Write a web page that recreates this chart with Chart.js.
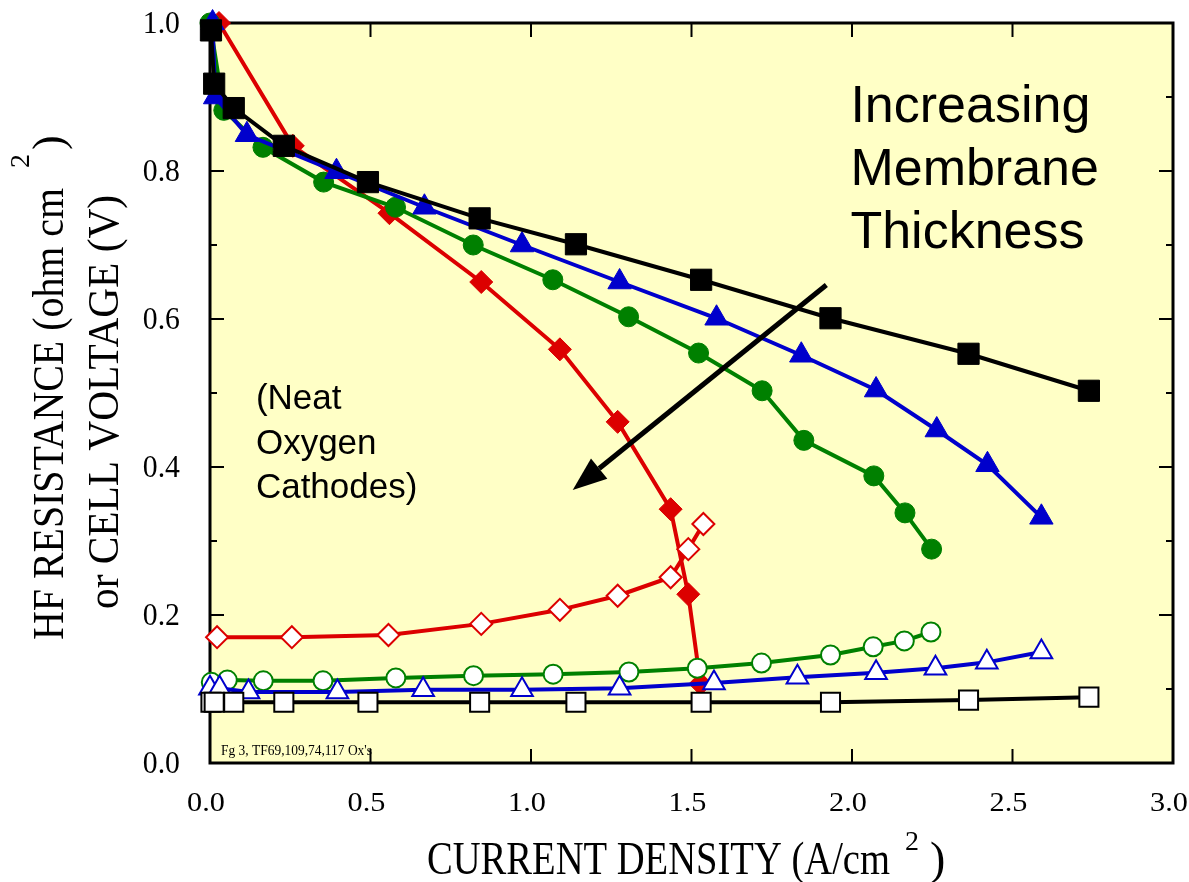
<!DOCTYPE html>
<html>
<head>
<meta charset="utf-8">
<script src="https://cdn.jsdelivr.net/npm/chart.js@4.4.1/dist/chart.umd.min.js"></script>
<style>
  body { margin: 0; background: #fff; }
  canvas { display: block; }
</style>
</head>
<body>
<canvas id="polarizationChart" width="1189" height="882"></canvas>
<script>
// Thickest membrane (black squares)
const blackJ = [0.003, 0.013, 0.074, 0.23, 0.492, 0.84, 1.14, 1.53, 1.933, 2.363, 2.738];
const blackVolt = [0.99, 0.918, 0.885, 0.834, 0.785, 0.736, 0.701, 0.653, 0.601, 0.553, 0.503];
const blackHfr = [0.082, 0.082, 0.082, 0.082, 0.082, 0.082, 0.082, 0.082, 0.082, 0.085, 0.089];

// Blue triangles
const blueVoltJ = [0.008, 0.016, 0.115, 0.394, 0.668, 0.972, 1.276, 1.578, 1.842, 2.075, 2.264, 2.422, 2.59];
const blueVolt = [1.0, 0.9, 0.849, 0.799, 0.751, 0.7, 0.65, 0.601, 0.551, 0.504, 0.45, 0.403, 0.332];
const blueHfrJ = [0.0, 0.03, 0.12, 0.397, 0.664, 0.972, 1.276, 1.57, 1.83, 2.075, 2.26, 2.42, 2.59];
const blueHfr = [0.101, 0.101, 0.096, 0.096, 0.099, 0.099, 0.101, 0.108, 0.116, 0.122, 0.128, 0.136, 0.15];

// Green circles
const greenVoltJ = [0.0, 0.043, 0.165, 0.354, 0.578, 0.82, 1.068, 1.304, 1.522, 1.72, 1.85, 2.068, 2.165, 2.248];
const greenVolt = [1.0, 0.882, 0.832, 0.785, 0.751, 0.7, 0.653, 0.603, 0.554, 0.503, 0.436, 0.388, 0.338, 0.289];
const greenHfrJ = [0.004, 0.054, 0.166, 0.352, 0.579, 0.821, 1.069, 1.305, 1.518, 1.718, 1.933, 2.066, 2.163, 2.246];
const greenHfr = [0.109, 0.112, 0.111, 0.111, 0.115, 0.118, 0.12, 0.123, 0.128, 0.135, 0.146, 0.157, 0.165, 0.177];

// Thinnest membrane (red diamonds)
const redVoltJ = [0.028, 0.258, 0.559, 0.845, 1.09, 1.27, 1.435, 1.49, 1.528];
const redVolt = [1.0, 0.834, 0.743, 0.65, 0.559, 0.461, 0.343, 0.228, 0.107];
const redHfrJ = [0.022, 0.255, 0.556, 0.845, 1.09, 1.27, 1.435, 1.49, 1.537];
const redHfr = [0.17, 0.17, 0.173, 0.188, 0.207, 0.226, 0.251, 0.289, 0.323];

// Axis ticks
const xTicks = [0, 0.5, 1.0, 1.5, 2.0, 2.5, 3.0];
const yTicks = [0, 0.2, 0.4, 0.6, 0.8, 1.0];
const yMinorTicks = [0.1, 0.3, 0.5, 0.7, 0.9];

// Notes and arrow (data units)
const noteRight = ["Increasing", "Membrane", "Thickness"];
const noteLeft = ["(Neat", "Oxygen", "Cathodes)"];
const arrowFrom = [1.92, 0.646];
const arrowTo = [1.13, 0.369];

const RED = "#dc0000";
const GREEN = "#008000";
const BLUE = "#0000cc";
const BLACK = "#000000";
const SERIF = "'Liberation Serif', 'Times New Roman', serif";
const SANS = "'Liberation Sans', Arial, sans-serif";

function series(xs, ys, color, style, radius, filled, order) {
  return {
    data: xs.map((x, i) => ({ x: x, y: ys[i] })),
    borderColor: color,
    borderWidth: 4,
    pointStyle: style,
    pointRadius: radius,
    pointBackgroundColor: filled ? color : "#ffffff",
    pointBorderColor: color,
    pointBorderWidth: filled ? 1 : 2,
    tension: 0,
    clip: false,
    order: order,
  };
}

// draw text squeezed/stretched to a given width
function fitText(ctx, text, x, y, font, width, align) {
  ctx.save();
  ctx.font = font;
  ctx.textAlign = "left";
  ctx.textBaseline = "alphabetic";
  const w = ctx.measureText(text).width;
  const sx = width ? width / w : 1;
  let x0 = x;
  if (align === "center") x0 = x - (w * sx) / 2;
  if (align === "right") x0 = x - w * sx;
  ctx.translate(x0, y);
  ctx.scale(sx, 1);
  ctx.fillText(text, 0, 0);
  ctx.restore();
}

function scaledText(ctx, text, x, y, font, sx, align) {
  ctx.save();
  ctx.font = font;
  ctx.textAlign = align;
  ctx.textBaseline = "alphabetic";
  ctx.translate(x, y);
  ctx.scale(sx, 1);
  ctx.fillText(text, 0, 0);
  ctx.restore();
}

const paperPlugin = {
  id: "paper",
  beforeDatasetsDraw(chart) {
    const ctx = chart.ctx;
    const a = chart.chartArea;
    const xs = chart.scales.x;
    const ys = chart.scales.y;
    ctx.save();
    ctx.fillStyle = "#ffffc6";
    ctx.fillRect(a.left, a.top, a.right - a.left, a.bottom - a.top);

    // inner ticks
    ctx.strokeStyle = BLACK;
    ctx.lineWidth = 2;
    ctx.beginPath();
    xTicks.slice(1, -1).forEach((v) => {
      const px = xs.getPixelForValue(v);
      ctx.moveTo(px, a.bottom);
      ctx.lineTo(px, a.bottom - 14);
      ctx.moveTo(px, a.top);
      ctx.lineTo(px, a.top + 14);
    });
    yTicks.forEach((v) => {
      const py = ys.getPixelForValue(v);
      ctx.moveTo(a.left, py);
      ctx.lineTo(a.left + 14, py);
      ctx.moveTo(a.right, py);
      ctx.lineTo(a.right - 14, py);
    });
    yMinorTicks.forEach((v) => {
      const py = ys.getPixelForValue(v);
      ctx.moveTo(a.left, py);
      ctx.lineTo(a.left + 7, py);
      ctx.moveTo(a.right, py);
      ctx.lineTo(a.right - 7, py);
    });
    ctx.stroke();

    // frame
    ctx.lineWidth = 3;
    ctx.strokeRect(a.left, a.top, a.right - a.left, a.bottom - a.top);

    // tick labels
    ctx.fillStyle = BLACK;
    yTicks.forEach((v) => {
      const py = ys.getPixelForValue(v);
      scaledText(ctx, v.toFixed(1), 180, py + 10, "32px " + SERIF, 0.93, "right");
    });
    xTicks.forEach((v) => {
      const px = xs.getPixelForValue(v);
      scaledText(ctx, v.toFixed(1), px - 4, 811, "27px " + SERIF, 1.12, "center");
    });

    // footnote
    fitText(ctx, "Fg 3, TF69,109,74,117 Ox's", 221, 755, "15px " + SERIF, 151, "left");

    // x title
    fitText(ctx, "CURRENT DENSITY (A/cm", 427, 874, "46px " + SERIF, 463, "left");
    fitText(ctx, "2", 905, 850, "28px " + SERIF, 0, "left");
    fitText(ctx, ")", 930, 874, "46px " + SERIF, 0, "left");

    // y title, two rotated lines
    ctx.save();
    ctx.translate(63, 640);
    ctx.rotate(-Math.PI / 2);
    fitText(ctx, "HF RESISTANCE (ohm cm", 0, 0, "44px " + SERIF, 452, "left");
    fitText(ctx, "2", 472, -34, "28px " + SERIF, 0, "left");
    fitText(ctx, ")", 490, 0, "44px " + SERIF, 0, "left");
    ctx.restore();
    ctx.save();
    ctx.translate(118, 609);
    ctx.rotate(-Math.PI / 2);
    fitText(ctx, "or CELL VOLTAGE (V)", 0, 0, "44px " + SERIF, 414, "left");
    ctx.restore();

    // notes
    const rx = xs.getPixelForValue(1.995);
    noteRight.forEach((t, i) => {
      fitText(ctx, t, rx, 122 + i * 63, "52px " + SANS, 0, "left");
    });
    const lx = xs.getPixelForValue(0.143);
    noteLeft.forEach((t, i) => {
      fitText(ctx, t, lx, 409 + i * 44.5, "35px " + SANS, 0, "left");
    });
    ctx.restore();
  },
  afterDatasetsDraw(chart) {
    const ctx = chart.ctx;
    const xs = chart.scales.x;
    const ys = chart.scales.y;
    const x1 = xs.getPixelForValue(arrowFrom[0]);
    const y1 = ys.getPixelForValue(arrowFrom[1]);
    const x2 = xs.getPixelForValue(arrowTo[0]);
    const y2 = ys.getPixelForValue(arrowTo[1]);
    const ang = Math.atan2(y2 - y1, x2 - x1);
    const headLen = 34;
    const headHalf = 13;
    const bx = x2 - headLen * Math.cos(ang);
    const by = y2 - headLen * Math.sin(ang);
    ctx.save();
    ctx.strokeStyle = BLACK;
    ctx.fillStyle = BLACK;
    ctx.lineWidth = 5;
    ctx.beginPath();
    ctx.moveTo(x1, y1);
    ctx.lineTo(bx, by);
    ctx.stroke();
    ctx.beginPath();
    ctx.moveTo(x2, y2);
    ctx.lineTo(bx + headHalf * Math.sin(ang), by - headHalf * Math.cos(ang));
    ctx.lineTo(bx - headHalf * Math.sin(ang), by + headHalf * Math.cos(ang));
    ctx.closePath();
    ctx.fill();
    ctx.restore();
  },
};

const datasets = [
  series(blackJ, blackVolt, BLACK, "rect", 15, true, 0),
  series(blackJ, blackHfr, BLACK, "rect", 13.5, false, 1),
  series(blueVoltJ, blueVolt, BLUE, "triangle", 13.5, true, 2),
  series(blueHfrJ, blueHfr, BLUE, "triangle", 12.5, false, 3),
  series(greenVoltJ, greenVolt, GREEN, "circle", 10, true, 4),
  series(greenHfrJ, greenHfr, GREEN, "circle", 9.5, false, 5),
  series(redHfrJ, redHfr, RED, "rectRot", 11, false, 6),
  series(redVoltJ, redVolt, RED, "rectRot", 11.5, true, 7),
];

const ctx = document.getElementById("polarizationChart").getContext("2d");
new Chart(ctx, {
  type: "line",
  data: { datasets: datasets },
  options: {
    responsive: false,
    animation: false,
    layout: { padding: { top: 23, right: 16, left: 0, bottom: 0 } },
    plugins: {
      legend: { display: false },
      tooltip: { enabled: false },
    },
    scales: {
      x: {
        type: "linear",
        min: 0,
        max: 3,
        grid: { display: false },
        border: { display: false },
        ticks: { display: false },
        afterFit: (s) => { s.height = 119; },
      },
      y: {
        type: "linear",
        min: 0,
        max: 1,
        grid: { display: false },
        border: { display: false },
        ticks: { display: false },
        afterFit: (s) => { s.width = 210; },
      },
    },
  },
  plugins: [paperPlugin],
});
</script>
</body>
</html>
